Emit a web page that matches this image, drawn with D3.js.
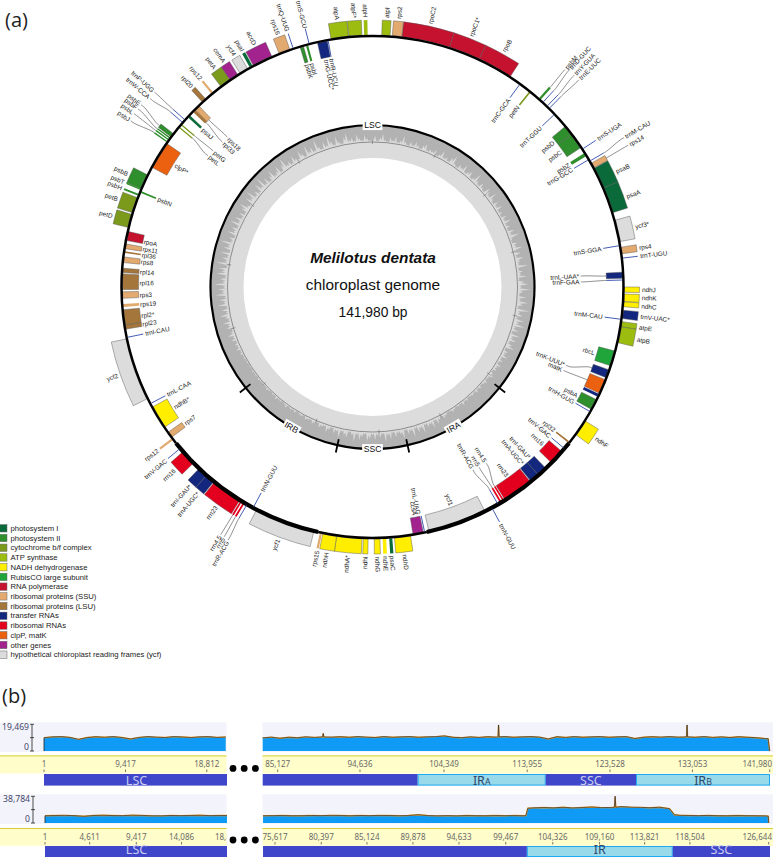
<!DOCTYPE html>
<html><head><meta charset="utf-8">
<script src="https://cdnjs.cloudflare.com/ajax/libs/d3/7.8.5/d3.min.js"></script>
<style>html,body{margin:0;padding:0;background:#fff;overflow:hidden}svg{display:block}</style>
</head><body><svg id="c" width="773" height="857" viewBox="0 0 773 857"></svg>
<script>
// ---- gene map data: [name, start, end, side(1 outer,-1 inner), labelAt, labelRadius] in map degrees (clockwise from top)
const photosystemI=[["psaB",61.8,66.8,1,64.7],["psaA",66.8,72.8,1,70.4],["psaC",175.5,176.2,1],["psaI",330.8,331.5,1],["psaJ",312.6,313.2,-1]];
const photosystemII=[["psbD",50.2,52.5,-1],["psbC",52.5,56.2,-1],["psbZ",57.7,58.5,-1],["psbM",41.4,41.9,1,41.5,292],["psbA",116.7,119.2,-1],
 ["psbK",343.2,344,-1],["psbI",344.6,345.1,-1],["psbJ",305.1,305.4,1,304.5,295],["psbL",305.7,306,1,306,296],["psbF",306.2,306.5,1,307.2,296],["psbE",306.7,307.6,1,308.2,296],
 ["psbB",293,296.5,1],["psbT",292.7,293,1],["psbH",291.3,291.7,1],["psbN",292.1,292.5,-1]];
const cytochrome=[["petB",287.2,290.8,1],["petD",283.7,286.8,1],["petA",322.9,325.5,1],["petN",38.7,39.1,-1],["petG",310.2,310.5,-1,310.5,208],["petL",309.4,309.7,-1,308.6,209]];
const atpSynthase=[["atpA",350.5,354.5,1],["atpF*",354.6,357.6,1],["atpH",358.1,358.9,1],["atpI",2.1,4,1],["atpE",97.9,99.1,1,98.6],["atpB",99.1,102.8,1,101.2]];
const nadh=[["ndhJ",90,91.2,1],["ndhK",91.6,93.3,1,92.3],["ndhC",93.4,94.5,1,94.1],["ndhF",122.2,126,1],["ndhD",171.3,175,1],["ndhE",176.9,177.7,1],["ndhG",178.3,179.6,1],
 ["ndhI",181,182.1,1],["ndhA*",182.4,188.2,1],["ndhH",188.2,191.4,1],["ndhB*",236,241.4,-1]];
const rubisco=[["rbcL",104.8,108.3,-1]];
const rnaPolymerase=[["rpoC2",6.7,17.8,1,12.4],["rpoC1*",17.8,25.1,1],["rpoB",25.1,33.2,1],["rpoA",280.7,282.8,-1,281.2,233]];
const ribosomalSSU=[["rps2",4.5,6.65,1],["rps14",60.5,61.7,1,61,294],["rps4",80.9,82.4,1],["rps12",232.5,233,1],["rps7",233.2,234.6,-1],["rps19",265.4,266.1,-1,265.7,233],["rps3",267.4,268.9,-1,268,233],
 ["rps8",275.6,276.9,-1,276.2,233],["rps11",278.8,279.9,-1,279.4,233],["rps18",315,316.2,-1,315.9,207],["rps12",320.2,320.7,1],["rps16",338.2,340.8,1],["rps15",191.6,192.1,1]];
const ribosomalLSU=[["rpl32",128.1,128.5,-1],["rpl23",260.3,261.3,-1,260.8,233],["rpl2*",261.3,264.8,-1,262.9,233],["rpl16",269.4,273,-1,271,233],["rpl14",273.3,274.3,-1,273.7,233],
 ["rpl36",277.8,278.2,-1,277.9,233],["rpl33",314.3,315,-1,314,207],["rpl20",317.4,318.4,1]];
const transferRNA=[["trnC-GCA",36,36,-1],["trnD-GUC",42.7,42.7,1,42.2,295],["trnY-GUA",44,44,1,43.6,294],["trnE-UUC",44.7,44.7,1,44.9,294],["trnT-GGU",46.5,46.5,-1],["trnS-UGA",56.7,56.7,1],
 ["trnG-GCC",59.5,59.5,-1],["trnM-CAU",59.9,59.9,1,59.3,294],["trnS-GGA",80.5,80.5,-1],["trnT-UGU",83.4,83.4,1],["trnL-UAA*",86.6,88,-1,87,207],["trnF-GAA",88.4,88.4,-1,88.6,207],
 ["trnV-UAC*",95.3,97.2,1,96.3],["trnM-CAU",97.4,97.4,-1],["trnK-UUU*",109.3,111.2,-1,112,207],["",115.3,116,-1],["trnH-GUG",119.8,119.8,-1],["trnV-GAC",130.1,130.1,-1],
 ["trnI-GAU*",136.3,138.6,-1],["trnA-UGC*",138.6,140.8,-1],["trnR-ACG",150,150,-1,151.2,207],["trnN-GUU",151.6,151.6,1],["trnL-UAG",168,168,-1,168.6],
 ["trnN-GUU",208.4,208.4,-1],["trnR-ACG",210,210,1,209.7,293],["trnA-UGC*",219.2,221.4,1],["trnI-GAU*",221.4,223.7,1],["trnV-GAC",230,230,1],["trnL-CAA",242.3,242.3,-1],["trnI-CAU",258.4,258.4,-1],
 ["trnW-CCA",310.9,310.9,1,310.3,293],["trnP-UGG",311.7,311.7,1,311.8,294],["trnS-GCU",345.4,345.4,1,345.4,267.5],["trnQ-UUG",341.6,341.6,1],["trnG-UCC*",347.3,349.6,-1],["trnR-UCU",349.8,349.8,-1]];
const ribosomalRNA=[["rrn16",131,134.5,-1],["rrn23",141,148.1,-1],["rrn4.5",148.3,148.7,-1,147.2,208],["rrn5",149,149.4,-1,149.4,208],
 ["rrn5",210.6,211,1,210.7,292],["rrn4.5",211.3,211.7,1,211.5,292],["rrn23",211.9,219,1],["rrn16",225.5,229,1]];
const clpMat=[["matK",111.7,115.1,-1,113.6,207],["clpP*",298.5,304.9,-1]];
const otherGenes=[["ccsA",168.3,170.7,-1],["accD",331.7,336.4,1],["cemA",325.5,327.6,1]];
const ycfGenes=[["ycf3*",74.6,79.6,1],["ycf1",153.4,167,-1],["ycf1",193.5,207.5,1],["ycf2",243.6,258.1,1],["ycf4",328.2,330.2,1]];

const legendNames=["photosystem I","photosystem II","cytochrome b/f complex","ATP synthase","NADH dehydrogenase","RubisCO large subunit","RNA polymerase","ribosomal proteins (SSU)","ribosomal proteins (LSU)","transfer RNAs","ribosomal RNAs","clpP, matK","other genes","hypothetical chloroplast reading frames (ycf)"];
const legendColors=["#0b6a3a","#2f8f2c","#7b9a1c","#9cbd10","#ffee00","#1fa539","#c4122f","#e3aa70","#a5763c","#13277f","#e3001e","#eb610f","#a3238e","#dcdcdc"];
const geneGroups=[photosystemI,photosystemII,cytochrome,atpSynthase,nadh,rubisco,rnaPolymerase,ribosomalSSU,ribosomalLSU,transferRNA,ribosomalRNA,clpMat,otherGenes,ycfGenes];

// quadripartite regions, map degrees
const regionNames=["LSC","IRA","SSC","IRB"];
const regionStart=[231.5,128.5,167.5,192.5];
const regionEnd=[488.5,167.5,192.5,231.5];
const regionLabelAt=[360,150,180,210];
const regionThick=[0,1,0,1];
const irBoundaries=[128.5,167.5,192.5,231.5];
// GC content spikes: share of the band, one value per map degree
const gcSpikes=[
 22,40,12,30,55,18,9,36,20,48,14,28,60,24,10,34,18,42,26,12,38,52,16,30,22,44,11,26,58,20,
 32,14,46,70,22,12,40,28,62,18,34,50,14,26,72,30,16,44,24,12,54,36,20,64,28,14,42,22,50,16,
 30,12,44,24,60,18,36,14,52,26,72,20,12,40,30,66,22,48,16,58,34,24,78,18,40,28,62,14,46,70,
 28,84,36,18,60,26,74,42,16,90,32,54,22,68,38,80,24,50,14,72,30,58,20,44,66,12,36,26,50,18,
 34,14,42,22,30,10,26,38,16,12,30,18,8,24,12,28,10,20,14,8,22,12,30,10,18,8,16,26,12,8,
 20,32,12,24,46,16,58,28,40,18,66,30,52,20,72,26,44,14,60,34,22,48,16,54,28,70,18,38,24,50,
 20,44,62,18,34,56,24,70,30,14,52,38,20,64,26,42,12,30,48,16,24,36,10,22,30,12,18,26,8,20,
 14,6,22,10,18,8,26,12,6,16,10,24,8,14,6,12,20,8,16,6,10,18,6,12,8,14,5,10,6,12,
 8,16,10,24,12,34,18,28,14,40,22,52,26,16,44,30,60,20,36,68,24,48,18,72,32,56,22,80,38,60,
 28,88,34,50,20,76,42,62,18,84,30,54,24,70,16,58,36,90,26,44,14,66,32,52,20,78,28,60,22,46,
 16,50,74,30,20,62,38,82,24,46,18,70,34,90,26,56,16,44,72,22,36,64,14,50,86,28,42,18,60,32,
 20,68,40,14,78,30,52,22,92,36,16,58,26,84,44,18,66,28,12,48,74,24,38,16,56,30,14,46,24,12];
const midTicks=[0,25.35,50.7,76.05,101.4,126.75,152.1,177.45,202.8,228.15,253.5,278.85,304.2,329.55];

// ---- coverage panels (b): bp sampled every 1000 from each segment start
const cov1LeftStart=0, cov1RightStart=83394, cov2LeftStart=0, cov2RightStart=74380;
const cov1Left=[9700,10300,10500,9900,8500,9800,10400,10000,10500,9800,8800,9900,10500,10100,9800,10500,10200,9800,10300,10500,9900,10200];
const cov1Right=[9600,10100,9300,10000,9700,10300,9900,10400,10100,10400,10000,10500,10100,9800,10500,10000,10300,10500,10000,10300,10500,11000,10000,9700,10300,9900,10400,10100,10500,10000,10300,10500,10100,8800,10400,9900,10500,10000,10300,10500,10000,10300,10500,9100,10000,10400,10100,10500,10100,10600,10000,10500,9900,10300,9800,10400,10000,9700,9100];
const cov1Spikes=[[90320,10300],[90390,12800],[90460,10200],[110590,10300],[110650,19000],[110710,10300],[132370,10300],[132430,19000],[132490,10300],[141800,9000],[141980,0]];
const cov2Left=[10500,10900,11100,10700,9700,10900,11200,10800,10700,11300,11000,10500,10400,10900,10700,10900,11200,10700,10900,10800];
const cov2Right=[10500,10700,10900,10500,10600,10900,10700,11100,10900,10500,10900,10700,11000,10900,10600,10800,12000,10800,10400,10700,10400,10800,10600,10500,10800,10600,10800,10500,
 22000,22500,22000,22800,21900,22500,23200,22400,22600,23800,23000,22700,22200,22900,21000,11200,10900,10700,11000,10600,10500,10800,10600,10500,10300];
const cov2Spikes=[[101550,11000],[101750,21500],[110700,22800],[110770,38900],[110840,22800],[116400,20800],[116900,12000],[126600,10000],[126644,0]];

const ticks1Left=[1,9417,18812], ticks1Right=[85127,94636,104349,113955,123528,133053,141980];
const ticks2Left=[1,4611,9417,14086,18812], ticks2Right=[75617,80397,85124,89878,94633,99467,104326,109160,113821,118504,126644];
const bars1=[["",83394,101300,0],["IR",101300,116100,1,"A"],["SSC",116100,126530,0],["IR",126530,142100,1,"B"]];
const bars2=[["",74380,101650,0],["IR",101650,116730,1,""],["SSC",116730,127000,0]];
const axisMax1=19469, axisMax2=38784;

// ---- drawing
const svg=d3.select("#c");
const CX=372.5,CY=287,R=251,DEPTH=16;
const MAP="'Liberation Sans',Arial,sans-serif", UI="'Noto Sans',sans-serif";
const ang=d3.scaleLinear().domain([0,360]).range([0,2*Math.PI]);
const polar=(d,r)=>[CX+r*Math.sin(ang(d)),CY-r*Math.cos(ang(d))];
const g=svg.append("g").attr("transform",`translate(${CX},${CY})`);
const arc=d3.arc();
const ringPath=(a,b,r0,r1)=>arc({innerRadius:r0,outerRadius:r1,startAngle:ang(a),endAngle:ang(b)});

// inner ring
g.append("path").attr("d",ringPath(0,360,129,145)).attr("fill","#dcdcdc");
g.append("path").attr("d",ringPath(0,360,145,161.5)).attr("fill","#b2b2b2");
const gcR=d3.scaleLinear().domain([0,100]).range([145,160.5]);
// each reading is a narrow spike that falls back towards the mid line before the next one
const gcPts=[];
gcSpikes.forEach((v,i)=>{
  const next=gcSpikes[(i+1)%gcSpikes.length];
  gcPts.push([i,v]);
  gcPts.push([i+0.5,Math.min(v,next)*0.45]);
});
gcPts.push([360,gcSpikes[0]]);
g.append("path").attr("fill","#dadada").attr("d",d3.areaRadial().angle(d=>ang(d[0])).innerRadius(144.6).outerRadius(d=>gcR(d[1]))(gcPts));
g.append("circle").attr("r",145).attr("fill","none").attr("stroke","#6d6d6d").attr("stroke-width",.7);
midTicks.forEach(d=>{
  const a=polar(d,143),b=polar(d,147.5);
  svg.append("line").attr("x1",a[0]).attr("y1",a[1]).attr("x2",b[0]).attr("y2",b[1]).attr("stroke","#6d6d6d").attr("stroke-width",.6);
});
// inner ring quadripartite arcs and ticks
regionNames.forEach((n,i)=>{
  g.append("path").attr("d",d3.arc()({innerRadius:160.9,outerRadius:163.1,startAngle:ang(regionStart[i]),endAngle:ang(regionEnd[i])})).attr("fill","#000");
});
irBoundaries.forEach(d=>{
  const a=polar(d,156),b=polar(d,169.5);
  svg.append("line").attr("x1",a[0]).attr("y1",a[1]).attr("x2",b[0]).attr("y2",b[1]).attr("stroke","#000").attr("stroke-width",1.8);
});
regionNames.forEach((n,i)=>{
  const at=regionLabelAt[i],p=polar(at,162);
  const rot=(at>90&&at<270)?at-180:at;
  const t=svg.append("text").attr("transform",`translate(${p[0]},${p[1]}) rotate(${rot})`).attr("text-anchor","middle").attr("dy",".36em")
   .attr("font-family",MAP).attr("font-size",8.6).attr("fill","#111").text(n);
  const bb=t.node().getBBox();
  svg.insert("rect","text").attr("transform",`translate(${p[0]},${p[1]}) rotate(${rot})`).attr("x",bb.x-1.5).attr("y",bb.y).attr("width",bb.width+3).attr("height",bb.height).attr("fill","#fff");
});

// genes
const genesG=g.append("g"), leadG=svg.append("g"), labelG=svg.append("g");
const leader=d3.line().curve(d3.curveCatmullRom.alpha(.5));
geneGroups.forEach((list,gi)=>{
  const color=legendColors[gi];
  list.forEach(gene=>{
    const [name,s,e,side,la,lr]=gene;
    const r0=side>0?R+1:R-DEPTH-1, r1=side>0?R+DEPTH:R-1;
    const mid=(s+e)/2, lineOnly=(e-s)<1e-6, narrow=(e-s)<0.8;
    if(lineOnly){
      const a=polar(s,r0),b=polar(s,r1);
      leadG.append("line").attr("x1",a[0]).attr("y1",a[1]).attr("x2",b[0]).attr("y2",b[1]).attr("stroke",gi==9?"#2f4cab":color).attr("stroke-width",.9);
    } else {
      genesG.append("path").attr("d",ringPath(s,e,r0,r1)).attr("fill",color)
       .attr("stroke",narrow?"none":"#555").attr("stroke-width",narrow?0:.45);
    }
    if(!name) return;
    const defR=side>0?R+18.5:R-DEPTH-3;
    const at=la==null?mid:la, lR=lr==null?defR:lr;
    if(Math.abs(lR-R)>36){
      const tip=side>0?R+DEPTH:R-DEPTH-1;
      const pts=[polar(mid,tip),polar(mid,tip+side*3),polar(at,lR-side*6),polar(at,lR-side*1.5)];
      leadG.append("path").attr("d",leader(pts)).attr("fill","none").attr("stroke","#333").attr("stroke-width",.55);
    }
    const p=polar(at,lR), right=at<180;
    const rot=right?at-90:at+90;
    const anchor=(right===(side>0))?"start":"end";
    labelG.append("text").attr("transform",`translate(${p[0]},${p[1]}) rotate(${rot})`).attr("text-anchor",anchor).attr("dy",".35em")
      .attr("font-family",MAP).attr("font-size",6.4).attr("fill","#222").text(name);
  });
});
// outer circle
regionNames.forEach((n,i)=>{
  const w=regionThick[i]?2.1:1.25;
  g.append("path").attr("d",d3.arc()({innerRadius:R-w,outerRadius:R+w,startAngle:ang(regionStart[i]),endAngle:ang(regionEnd[i])})).attr("fill","#000");
});

// centre title
const title=[["Melilotus dentata",263,"700","italic",15.4],["chloroplast genome",290,"400","normal",15.4],["141,980 bp",317,"400","normal",13.8]];
title.forEach(t=>svg.append("text").attr("x",373).attr("y",t[1]).attr("text-anchor","middle").attr("font-family",MAP)
  .attr("font-weight",t[2]).attr("font-style",t[3]).attr("font-size",t[4]).attr("fill","#111").text(t[0]));

// legend
const legY=d3.scaleLinear().domain([0,13]).range([528.3,654.7]);
legendNames.forEach((n,i)=>{
  svg.append("rect").attr("x",-1).attr("y",legY(i)-3.7).attr("width",8).attr("height",7.4).attr("fill",legendColors[i]).attr("stroke","#666").attr("stroke-width",.5);
  svg.append("text").attr("x",10.5).attr("y",legY(i)+2.6).attr("font-family",MAP).attr("font-size",7.7).attr("fill","#222").text(n);
});
// panel letters
[["(a)",5,27],["(b)",2,703]].forEach(l=>svg.append("text").attr("x",l[1]).attr("y",l[2]).attr("font-family","'Open Sans',sans-serif").attr("font-size",20).attr("fill","#222").text(l[0]));

// coverage rows
function row(o){
  const {y0,y1,bar0,bar1,strip0,strip1,tickY}=o;
  const sx=d3.scaleLinear().domain([o.domL[0],o.domL[1]]).range([o.xL[0],o.xL[1]]);
  const sxR=d3.scaleLinear().domain([o.domR[0],o.domR[1]]).range([o.xR[0],o.xR[1]]);
  const sy=d3.scaleLinear().domain([0,o.max]).range([y1,y0+2]);
  // panel
  svg.append("rect").attr("x",0).attr("y",y0).attr("width",226.5).attr("height",y1+1-y0).attr("fill","#f3f3fb");
  svg.append("rect").attr("x",262.5).attr("y",y0).attr("width",510.5).attr("height",y1+1-y0).attr("fill","#f3f3fb");
  [[0,226.5],[262.5,773]].forEach(s=>{
    svg.append("rect").attr("x",s[0]).attr("y",strip0).attr("width",s[1]-s[0]).attr("height",strip1-strip0).attr("fill","#fffdc9");
    svg.append("rect").attr("x",s[0]).attr("y",strip0).attr("width",s[1]-s[0]).attr("height",1).attr("fill","#d8cd35");
  });
  const area=(x)=>d3.area().x(d=>x(d[0])).y0(y1).y1(d=>sy(d[1]));
  const line=(x)=>d3.line().x(d=>x(d[0])).y(d=>sy(d[1]));
  const ptsL=o.covL.map((v,i)=>[o.startL+i*1000,v]);
  const ptsR=o.covR.map((v,i)=>[o.startR+i*1000,v]).concat(o.spikes);
  ptsR.sort((a,b)=>a[0]-b[0]);
  const panelClip="cov"+o.id;
  svg.append("clipPath").attr("id",panelClip).append("rect").attr("x",o.xL[0]-1).attr("y",y0).attr("width",227-o.xL[0]+1).attr("height",y1+1-y0);
  [[ptsL,sx,`url(#${panelClip})`],[ptsR,sxR,null]].forEach(([pts,x,clip])=>{
    const clean=pts.filter(p=>o.spikes.some(s=>s[0]===p[0])||!o.spikes.some(s=>Math.abs(s[0]-p[0])<130));
    const cg=svg.append("g").attr("clip-path",clip);
    cg.append("path").attr("d",area(x)(clean)).attr("fill","#0f9af5");
    cg.append("path").attr("d",line(x)(clean)).attr("fill","none").attr("stroke","#f0a424").attr("stroke-width",1.4);
    cg.append("path").attr("d",line(x)(clean)).attr("fill","none").attr("stroke","#2c2c3c").attr("stroke-width",.7);
  });
  svg.append("line").attr("x1",o.xL[0]).attr("x2",o.xL[0]).attr("y1",sy(o.covL[0])).attr("y2",y1).attr("stroke","#222").attr("stroke-width",.8);
  // y axis
  const ax=o.axisX;
  svg.append("path").attr("d",`M${ax-2},${y0+2}H${ax+2}M${ax},${y0+2}V${y1}M${ax-2},${y1}H${ax+2}M${ax-2},${(y0+y1)/2+1}H${ax+2}`).attr("fill","none").attr("stroke","#222").attr("stroke-width",.8);
  [[d3.format(",")(o.max),y0+7.5],["0",y1-1]].forEach(l=>svg.append("text").attr("x",ax-3).attr("y",l[1]).attr("text-anchor","end").attr("font-family",UI).attr("font-size",8.6).attr("fill","#44476a").text(l[0]));
  // ticks, clipped to each strip
  const clipId="clip"+o.id;
  svg.append("clipPath").attr("id",clipId).append("rect").attr("x",0).attr("y",strip0).attr("width",226.5).attr("height",strip1-strip0);
  const tl=svg.append("g").attr("clip-path",`url(#${clipId})`);
  const drawTicks=(vals,x,parent)=>vals.forEach(v=>{
    const px=x(v);
    parent.append("line").attr("x1",px).attr("x2",px).attr("y1",tickY).attr("y2",tickY+2.5).attr("stroke","#555").attr("stroke-width",.8);
    const atEnd=px>750;
    parent.append("text").attr("x",atEnd?772:px).attr("y",tickY-2.3).attr("text-anchor",atEnd?"end":"middle").attr("font-family",UI).attr("font-size",8).attr("fill","#6a6a6a").text(d3.format(",")(v));
  });
  drawTicks(o.ticksL,sx,tl);
  drawTicks(o.ticksR,sxR,svg);
  // dots
  [0,1,2].forEach(i=>svg.append("circle").attr("cx",233+i*11.2).attr("cy",o.dotY).attr("r",3.4).attr("fill","#000"));
  // region bars
  svg.append("rect").attr("x",o.xL[0]).attr("y",bar0).attr("width",227-o.xL[0]).attr("height",bar1-bar0).attr("fill","#3f46c9");
  svg.append("text").attr("x",136.5).attr("y",o.barText).attr("text-anchor","middle").attr("font-family",UI).attr("font-size",12.5).attr("fill","#c9cdf0").text("LSC");
  o.bars.forEach(b=>{
    const a=sxR(b[1]), c=Math.min(sxR(b[2]),770);
    svg.append("rect").attr("x",a+(b[3]?.5:0)).attr("y",bar0+(b[3]?.5:0)).attr("width",c-a-(b[3]?1:0)).attr("height",bar1-bar0-(b[3]?1:0))
      .attr("fill",b[3]?"#98d9ea":"#3f46c9").attr("stroke",b[3]?"#1ca9ee":"none").attr("stroke-width",b[3]?1:0);
    if(!b[0]) return;
    const t=svg.append("text").attr("x",(a+c)/2).attr("y",o.barText).attr("text-anchor","middle").attr("font-family",UI).attr("font-size",12.5).attr("fill",b[3]?"#2f4668":"#c9cdf0");
    t.append("tspan").text(b[0]);
    if(b[4]) t.append("tspan").attr("font-size",8.8).text(b[4]);
  });
}
row({id:1,y0:722.3,y1:751,strip0:755.4,strip1:773.4,bar0:774,bar1:785.6,barText:784.6,tickY:769.5,dotY:768.4,axisX:32,max:axisMax1,
 domL:[1,9417],xL:[44,125.5],domR:[85127,141980],xR:[277.7,769.7],startL:cov1LeftStart,startR:cov1RightStart,covL:cov1Left,covR:cov1Right,spikes:cov1Spikes,ticksL:ticks1Left,ticksR:ticks1Right,bars:bars1});
row({id:2,y0:794.3,y1:823,strip0:828,strip1:845.7,bar0:846,bar1:857,barText:854,tickY:842,dotY:840,axisX:33,max:axisMax2,
 domL:[1,9417],xL:[45,136.3],domR:[75617,126644],xR:[275,768.7],startL:cov2LeftStart,startR:cov2RightStart,covL:cov2Left,covR:cov2Right,spikes:cov2Spikes,ticksL:ticks2Left,ticksR:ticks2Right,bars:bars2});
</script></body></html>
